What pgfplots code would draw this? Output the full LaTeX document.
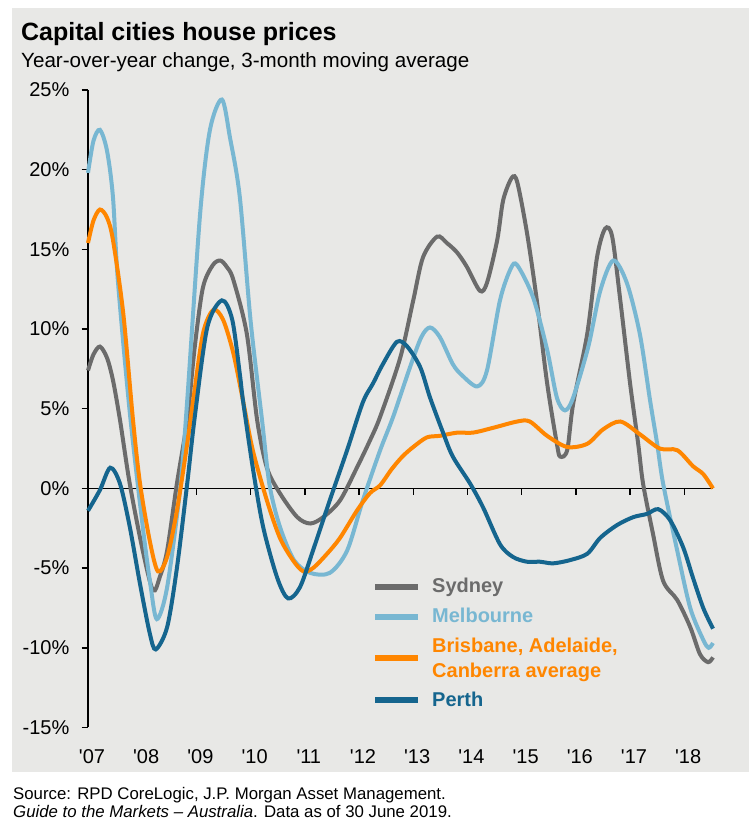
\documentclass[border=0pt]{standalone}
\usepackage{fontspec}
\newfontfamily\lib{Liberation Sans}
\usepackage{pgfplots}
\pgfplotsset{compat=1.18}
\definecolor{panel}{HTML}{E8E8E6}
\definecolor{syd}{HTML}{6B6B6B}
\definecolor{mel}{HTML}{78B7D2}
\definecolor{bri}{HTML}{FF8600}
\definecolor{per}{HTML}{15658E}
\begin{document}
\begin{tikzpicture}[x=1pt,y=1pt]
\useasboundingbox (0,0) rectangle (752,831);
\fill[panel] (12,59) rectangle (749,823);
\node[anchor=base west, inner sep=0, font=\lib\bfseries\fontsize{25}{30}\selectfont] at (21,790) {Capital cities house prices};
\node[anchor=base west, inner sep=0, font=\lib\fontsize{20.6}{24}\selectfont] at (21,763) {Year-over-year change, 3-month moving average};
\node[anchor=base west, inner sep=0, font=\lib\fontsize{16.8}{19}\selectfont] at (13,31) {Source: RPD CoreLogic, J.P. Morgan Asset Management.};
\node[anchor=base west, inner sep=0, font=\lib\fontsize{16.8}{19}\selectfont] at (13,13) {\textit{Guide to the Markets – Australia}. Data as of 30 June 2019.};
\begin{axis}[
  at={(88pt,103.5pt)}, anchor=south west, scale only axis,
  width=625pt, height=637.5pt,
  xmin=2007, xmax=2018.53, ymin=-15, ymax=25,
  clip=false,
  axis y line*=left, axis x line*=bottom,
  x axis line style={draw=none},
  y axis line style={line width=1.4pt, black},
  xtick={2007,...,2018},
  xticklabels={'07,'08,'09,'10,'11,'12,'13,'14,'15,'16,'17,'18},
  ytick={-15,-10,...,25},
  yticklabels={-15\%,-10\%,-5\%,0\%,5\%,10\%,15\%,20\%,25\%},
  tick align=outside, major tick length=6.5pt,
  xtick style={draw=none}, ytick style={line width=1.4pt, black},
  tick label style={font=\lib\fontsize{20}{24}\selectfont, inner sep=0pt, text=black},
  yticklabel style={xshift=-12pt},
  xticklabel style={anchor=base, yshift=-29pt, xshift=4pt},
  legend style={at={(0.456,0.2356)}, anchor=north west, draw=none, fill=none,
    inner sep=0pt, font=\lib\bfseries\fontsize{20}{25}\selectfont,
    row sep=10pt,
    nodes={inner sep=0pt, text height=15pt, text depth=5pt},
    /tikz/every odd column/.append style={column sep=12pt}},
  legend cell align=left,
  legend image code/.code={\path (0pt,0pt) -- (43pt,0pt);\draw[#1, overlay] (0pt,2pt) -- (43pt,2pt);},
  every axis plot/.append style={line width=4pt, smooth, tension=0.5},
]
\draw[line width=1.5pt, black] (axis cs:2007,0) -- (axis cs:2018.53,0);
\pgfplotsinvokeforeach{2008,...,2018}{\draw[line width=1.4pt, black] (axis cs:#1,0) -- ([yshift=-7pt]axis cs:#1,0);}

\addplot[syd] coordinates {
(2007.00,7.4) (2007.10,8.4) (2007.22,8.9) (2007.35,8.2) (2007.46,6.8) (2007.59,4.3)
(2007.77,0.3) (2008.01,-3.9) (2008.20,-6.4) (2008.33,-5.5) (2008.46,-3.9) (2008.64,0.3)
(2008.83,4.3) (2008.97,8.9) (2009.12,12.6) (2009.30,14.0) (2009.44,14.3) (2009.56,13.9)
(2009.68,13.1) (2009.93,9.7) (2010.12,4.3) (2010.30,1.3) (2010.54,-0.3) (2010.86,-1.8)
(2011.10,-2.2) (2011.34,-1.8) (2011.65,-0.75) (2011.96,1.3) (2012.20,3.0) (2012.39,4.5)
(2012.76,8.2) (2013.00,11.8) (2013.18,14.5) (2013.44,15.8) (2013.62,15.4) (2013.81,14.8)
(2013.99,13.9) (2014.23,12.4) (2014.36,12.9) (2014.55,15.6) (2014.66,18.1) (2014.82,19.5)
(2014.92,19.2) (2015.10,16.0) (2015.28,11.8) (2015.47,6.6) (2015.65,2.8) (2015.71,2.0)
(2015.84,2.4) (2015.95,5.3) (2016.21,9.7) (2016.39,14.5) (2016.54,16.3) (2016.67,15.8)
(2016.82,11.8) (2017.00,6.6) (2017.15,2.8) (2017.24,0.3) (2017.42,-2.8) (2017.61,-5.8)
(2017.87,-7.0) (2018.11,-8.7) (2018.29,-10.4) (2018.44,-10.9) (2018.53,-10.6)
};
\addlegendentry{\textcolor{syd}{Sydney}}

\addplot[mel] coordinates {
(2007.00,19.8) (2007.10,21.8) (2007.22,22.5) (2007.35,21.2) (2007.46,18.3) (2007.55,13.1)
(2007.77,4.8) (2008.01,-2.4) (2008.15,-6.0) (2008.27,-8.2) (2008.46,-6.2) (2008.70,0.0)
(2008.83,5.5) (2009.07,17.3) (2009.25,22.5) (2009.47,24.4) (2009.62,22.0) (2009.80,18.3)
(2010.00,10.5) (2010.21,4.3) (2010.35,0.2) (2010.54,-2.4) (2010.80,-4.5) (2011.10,-5.3)
(2011.46,-5.3) (2011.78,-3.9) (2012.07,-0.75) (2012.39,2.4) (2012.63,4.5) (2012.94,7.6)
(2013.15,9.5) (2013.31,10.1) (2013.49,9.5) (2013.73,7.8) (2013.90,7.1) (2014.18,6.4)
(2014.36,7.4) (2014.60,11.8) (2014.80,13.8) (2014.92,14.0) (2015.21,12.0) (2015.47,8.7)
(2015.65,5.7) (2015.80,4.9) (2015.95,5.7) (2016.23,8.9) (2016.45,12.4) (2016.69,14.3)
(2016.94,12.9) (2017.18,9.7) (2017.37,5.5) (2017.50,2.8) (2017.61,0.3) (2017.87,-3.9)
(2018.11,-7.5) (2018.35,-9.5) (2018.45,-10.0) (2018.53,-9.7)
};
\addlegendentry{\textcolor{mel}{Melbourne}}

\addplot[bri] coordinates {
(2007.00,15.4) (2007.10,16.8) (2007.22,17.5) (2007.35,17.0) (2007.46,15.6) (2007.65,11.0)
(2007.83,4.3) (2007.96,0.3) (2008.14,-3.3) (2008.29,-5.2) (2008.46,-4.3) (2008.64,-1.4)
(2008.83,2.8) (2008.94,5.5) (2009.12,9.7) (2009.31,11.2) (2009.49,10.6) (2009.68,8.5)
(2009.86,5.5) (2010.04,2.4) (2010.30,-0.75) (2010.54,-3.1) (2010.78,-4.5) (2010.97,-5.2)
(2011.15,-5.0) (2011.41,-4.1) (2011.65,-3.1) (2011.96,-1.4) (2012.20,-0.3) (2012.39,0.2)
(2012.60,1.2) (2012.80,2.0) (2013.00,2.6) (2013.25,3.2) (2013.49,3.3) (2013.81,3.5)
(2014.10,3.5) (2014.47,3.8) (2014.92,4.2) (2015.15,4.2) (2015.47,3.3) (2015.84,2.6)
(2016.21,2.8) (2016.50,3.7) (2016.82,4.2) (2017.18,3.4) (2017.55,2.5) (2017.87,2.4)
(2018.16,1.4) (2018.35,0.9) (2018.53,0.0)
};
\addlegendentry[align=left, text height=, text depth=]{\textcolor{bri}{Brisbane, Adelaide,}\\\textcolor{bri}{Canberra average}}

\addplot[per] coordinates {
(2007.00,-1.4) (2007.22,-0.1) (2007.41,1.3) (2007.59,0.3) (2007.77,-2.4) (2007.96,-6.0)
(2008.14,-9.1) (2008.25,-10.1) (2008.46,-8.7) (2008.64,-5.0) (2008.83,0.3) (2008.97,4.5)
(2009.20,10.1) (2009.47,11.8) (2009.66,10.6) (2009.80,7.2) (2009.86,5.5) (2010.04,1.3)
(2010.23,-2.4) (2010.49,-5.6) (2010.69,-6.9) (2010.91,-6.2) (2011.15,-3.9) (2011.46,-0.75)
(2011.78,2.4) (2012.07,5.4) (2012.26,6.6) (2012.44,7.8) (2012.70,9.2) (2012.89,8.9)
(2013.13,7.6) (2013.31,5.7) (2013.55,3.5) (2013.73,2.0) (2014.05,0.3) (2014.29,-1.2)
(2014.60,-3.5) (2014.84,-4.3) (2015.10,-4.6) (2015.34,-4.6) (2015.58,-4.7) (2015.89,-4.5)
(2016.21,-4.1) (2016.45,-3.1) (2016.76,-2.3) (2017.06,-1.8) (2017.31,-1.6) (2017.52,-1.3)
(2017.74,-2.0) (2017.98,-3.7) (2018.16,-5.6) (2018.35,-7.5) (2018.53,-8.8)
};
\addlegendentry{\textcolor{per}{Perth}}
\end{axis}
\end{tikzpicture}
\end{document}
